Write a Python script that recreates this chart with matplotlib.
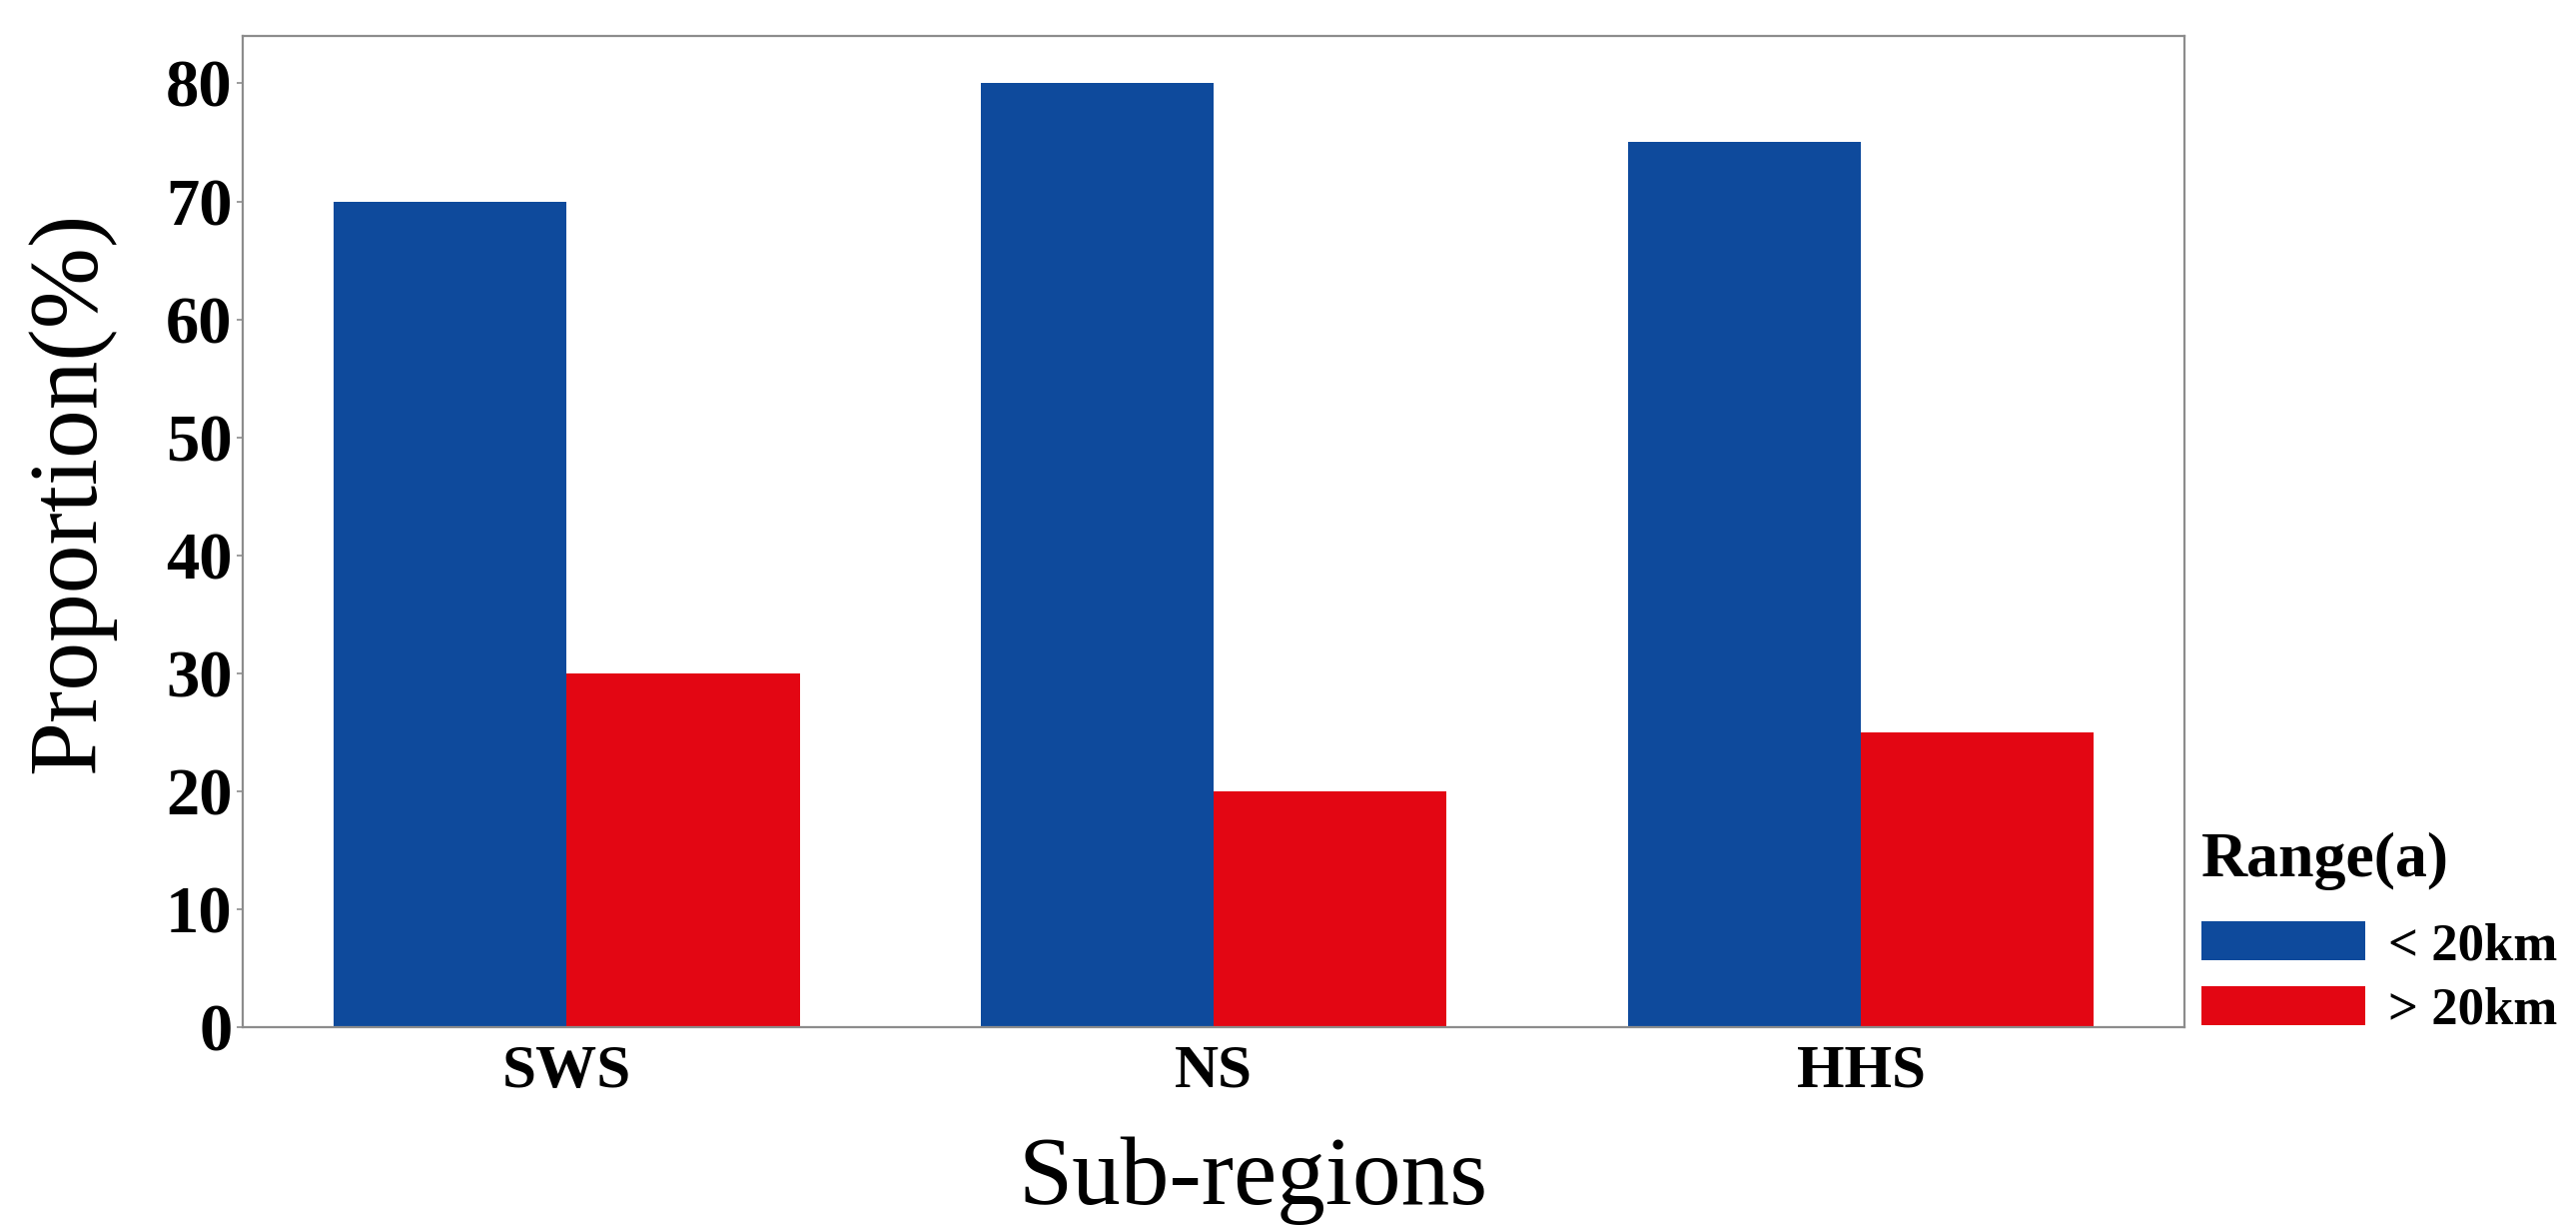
import numpy as np
import matplotlib.pyplot as plt
from matplotlib.patches import Patch

# data
regions = ['SWS', 'NS', 'HHS']
below_20km = [70, 80, 75]
above_20km = [30, 20, 25]
yticks = [0, 10, 20, 30, 40, 50, 60, 70, 80]
legend_labels = ['< 20km', '> 20km']

blue = '#0e4a9c'
red = '#e30613'
spine_col = '#8c8c8c'

plt.rcParams['font.family'] = ['Liberation Serif', 'DejaVu Serif']

fig = plt.figure(figsize=(25.79, 12.30), dpi=100)
ax = fig.add_axes([0.0944, 0.164, 0.7536, 0.8066])

x = np.arange(len(regions))
w = 0.36
ax.bar(x - w / 2, below_20km, w, color=blue, linewidth=0)
ax.bar(x + w / 2, above_20km, w, color=red, linewidth=0)

ax.set_xlim(-0.5, 2.5)
ax.set_ylim(0, 84)
ax.set_yticks(yticks)
ax.set_xticks(x)
ax.set_xticklabels(regions, fontsize=44, fontweight='bold')
for lab in ax.get_yticklabels():
    lab.set_fontsize(48)
    lab.set_fontweight('bold')

ax.tick_params(axis='y', length=4, width=1.2, color=spine_col, pad=4)
ax.tick_params(axis='x', length=0, pad=12)
for s in ax.spines.values():
    s.set_color(spine_col)
    s.set_linewidth(1.6)

ax.set_ylabel('Proportion(%)', fontsize=70)
ax.yaxis.set_label_coords(-0.066, 0.54)
ax.set_xlabel('Sub-regions', fontsize=70)
ax.xaxis.set_label_coords(0.52, -0.11)

# legend title drawn separately so it can sit a bit higher
fig.text(0.8546, 0.299, 'Range(a)', fontsize=46, fontweight='bold',
         ha='left', va='center')

handles = [Patch(color=blue, linewidth=0), Patch(color=red, linewidth=0)]
leg = fig.legend(handles, legend_labels,
                 loc='lower left', bbox_to_anchor=(0.8546, 0.158),
                 frameon=False, fontsize=38, handlelength=3.1, handleheight=0.75,
                 handletextpad=0.45, labelspacing=0.3, borderpad=0, borderaxespad=0)
for t in leg.get_texts():
    t.set_fontweight('bold')

fig.savefig('out.png', dpi=100)
